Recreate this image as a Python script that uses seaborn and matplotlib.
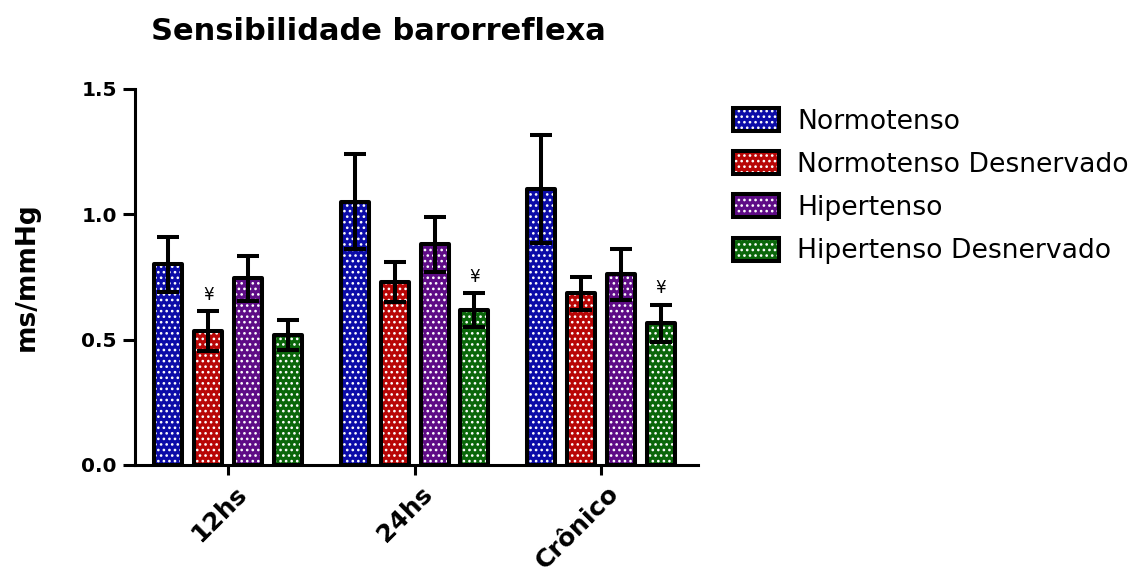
import matplotlib
matplotlib.use("Agg")
import matplotlib.pyplot as plt
from matplotlib.patches import Patch, Rectangle
from matplotlib.legend_handler import HandlerTuple
from matplotlib.transforms import ScaledTranslation
import seaborn as sns
import pandas as pd

# Groups and time points
tempos = ["12hs", "24hs", "Crônico"]
grupos = ["Normotenso", "Normotenso Desnervado", "Hipertenso", "Hipertenso Desnervado"]

# Mean baroreflex sensitivity (ms/mmHg), one list per group across time points
normotenso = [0.80, 1.05, 1.10]
normotenso_desn = [0.535, 0.73, 0.685]
hipertenso = [0.745, 0.88, 0.76]
hipertenso_desn = [0.52, 0.617, 0.565]

# Standard errors
sem_normotenso = [0.11, 0.19, 0.215]
sem_normotenso_desn = [0.08, 0.08, 0.065]
sem_hipertenso = [0.09, 0.11, 0.10]
sem_hipertenso_desn = [0.06, 0.067, 0.075]

# Significance marks (group index, time index)
marcas = [(1, 0), (3, 1), (3, 2)]
simbolo = "¥"

cores = ["#0c0ca8", "#b80606", "#5e0c86", "#0a660a"]

medias = [normotenso, normotenso_desn, hipertenso, hipertenso_desn]
erros = [sem_normotenso, sem_normotenso_desn, sem_hipertenso, sem_hipertenso_desn]

df = pd.DataFrame(
    [(t, g, medias[i][j]) for i, g in enumerate(grupos) for j, t in enumerate(tempos)],
    columns=["Tempo", "Grupo", "valor"],
)

sns.set_theme(style="ticks")
plt.rcParams["font.family"] = ["DejaVu Sans"]
plt.rcParams["text.color"] = "black"
plt.rcParams["axes.labelcolor"] = "black"
plt.rcParams["hatch.linewidth"] = 1.1

fig = plt.figure(figsize=(11.36, 5.74), dpi=100)
ax = fig.add_axes([0.1188, 0.19, 0.4956, 0.655])

sns.barplot(
    data=df, x="Tempo", y="valor", hue="Grupo", order=tempos, hue_order=grupos,
    palette=cores, width=0.856, gap=0.3, errorbar=None, legend=False,
    hatch="...", edgecolor="white", linewidth=0, saturation=1, ax=ax,
)

# Black outlines and SEM bars on top of the dotted fills
bar_containers = list(ax.containers)
for i, cont in enumerate(bar_containers):
    xs, ys = [], []
    for bar in cont.patches:
        ax.add_patch(Rectangle(bar.get_xy(), bar.get_width(), bar.get_height(),
                               fill=False, edgecolor="black", linewidth=2.9,
                               joinstyle="round", zorder=3))
        xs.append(bar.get_x() + bar.get_width() / 2)
        ys.append(bar.get_height())
    ax.errorbar(xs, ys, yerr=erros[i], fmt="none", ecolor="black",
                elinewidth=2.9, capsize=8, capthick=2.9, zorder=4)
    for gi, tj in marcas:
        if gi == i:
            ax.text(xs[tj], ys[tj] + erros[i][tj] + 0.065, simbolo,
                    ha="center", va="center", fontsize=12, zorder=5)

ax.set_xlim(-0.5, 2.52)
ax.set_ylim(0, 1.5)
ax.set_yticks([0.0, 0.5, 1.0, 1.5])
ax.set_yticklabels(["0.0", "0.5", "1.0", "1.5"])
sns.despine(ax=ax)
for s in ("left", "bottom"):
    ax.spines[s].set_linewidth(2.2)
    ax.spines[s].set_color("black")
ax.tick_params(axis="both", direction="out", width=2.2, colors="black")
ax.tick_params(axis="y", labelsize=14.5, length=9, pad=4)
ax.tick_params(axis="x", labelsize=18, length=7)
for lbl in ax.get_yticklabels():
    lbl.set_fontweight("bold")
ax.set_xlabel("")
ax.set_ylabel("ms/mmHg", fontsize=19, fontweight="bold", labelpad=30)

shift = ScaledTranslation(0.06, -0.02, fig.dpi_scale_trans)
for lbl in ax.get_xticklabels():
    lbl.set_rotation(45)
    lbl.set_ha("right")
    lbl.set_va("top")
    lbl.set_rotation_mode("anchor")
    lbl.set_fontweight("bold")
    lbl.set_transform(lbl.get_transform() + shift)

fig.text(378 / 1136, 1 - 32 / 574, "Sensibilidade barorreflexa",
         ha="center", va="center", fontsize=22, fontweight="bold")

handles = [
    (Patch(facecolor=c, edgecolor="white", hatch="...", linewidth=0),
     Patch(fill=False, edgecolor="black", linewidth=2.9))
    for c in cores
]
fig.legend(handles, grupos, handler_map={tuple: HandlerTuple(ndivide=1, pad=0)},
           loc="upper left", bbox_to_anchor=(0.645, 0.812), frameon=False,
           fontsize=19.2, handlelength=1.72, handleheight=0.95, handletextpad=0.7,
           labelspacing=0.62, borderaxespad=0, borderpad=0)

fig.savefig("out.png", dpi=100, facecolor="white")
